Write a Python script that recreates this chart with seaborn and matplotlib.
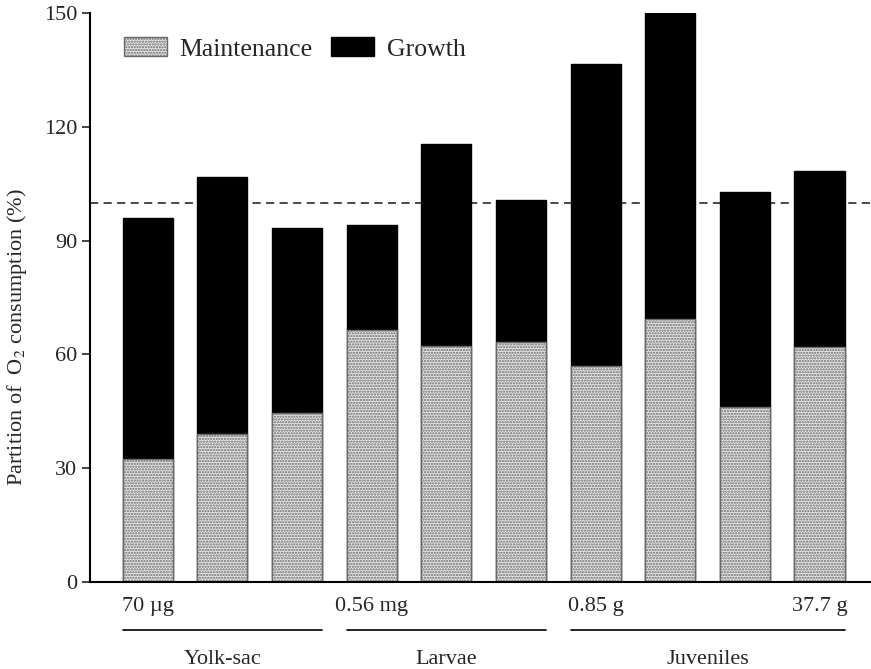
import matplotlib
matplotlib.use("Agg")
import matplotlib.pyplot as plt
import matplotlib.transforms as mtransforms
from matplotlib.patches import Patch
import numpy as np
import pandas as pd
import seaborn as sns

# Oxygen consumption partition for ten size classes (percent of routine rate)
total_pct = [96.0, 106.7, 93.4, 94.2, 115.5, 100.6, 136.6, 150.0, 102.7, 108.4]
maintenance_pct = [32.4, 39.0, 44.6, 66.4, 62.2, 63.3, 57.0, 69.3, 46.1, 62.0]

size_tick_pos = [0, 3, 6, 9]
size_tick_labels = ["70 \u00b5g", "0.56 mg", "0.85 g", "37.7 g"]

stage_names = ["Yolk-sac", "Larvae", "Juveniles"]
stage_first = [0, 3, 6]
stage_last = [2, 5, 9]

df = pd.DataFrame({
    "idx": np.arange(len(total_pct)),
    "total": total_pct,
    "maintenance": maintenance_pct,
})

sns.set_style("ticks")
plt.rcParams["font.family"] = ["Liberation Serif", "DejaVu Serif"]
plt.rcParams["mathtext.fontset"] = "stix"
plt.rcParams["hatch.linewidth"] = 1.1

MAINT_FACE = "#e6e6e6"
MAINT_EDGE = "#6a6a6a"
MAINT_HATCH = "......"

fig = plt.figure(figsize=(8.71, 6.69), dpi=100)
ax = fig.add_axes([90 / 871, 87 / 669, 781 / 871, 569 / 669])

bar_w = 0.67
# Whole bar = maintenance + growth; growth part shown in black
sns.barplot(data=df, x="idx", y="total", color="black", width=bar_w,
            errorbar=None, edgecolor="black", linewidth=1.0, ax=ax,
            saturation=1)
# Maintenance portion, stippled
sns.barplot(data=df, x="idx", y="maintenance", color=MAINT_FACE, width=bar_w,
            errorbar=None, edgecolor=MAINT_EDGE, linewidth=1.0,
            hatch=MAINT_HATCH, ax=ax, saturation=1)

# 100 % reference line
ax.axhline(100, color="#3a3a3a", lw=1.3, ls=(0, (4.5, 3)), zorder=0.5)

ax.set_xlim(-0.773, 9.69)
ax.set_ylim(0, 150)
ax.set_yticks([0, 30, 60, 90, 120, 150])
ax.tick_params(axis="y", direction="out", length=6, width=1.2, pad=3,
               labelsize=16)
ax.set_xticks(size_tick_pos)
ax.set_xticklabels(size_tick_labels)
ax.tick_params(axis="x", length=0, pad=11, labelsize=16)
ax.set_xlabel("")
ax.set_ylabel("Partition of  O$_2$ consumption (%)", fontsize=16)
ax.yaxis.set_label_coords(-0.078, 0.43)

sns.despine(ax=ax)
for side in ("left", "bottom"):
    ax.spines[side].set_linewidth(1.5)
    ax.spines[side].set_color("black")

# Life-stage brackets beneath the size labels
trans = mtransforms.blended_transform_factory(ax.transData, ax.transAxes)
for name, a, b in zip(stage_names, stage_first, stage_last):
    x0, x1 = a - bar_w / 2, b + bar_w / 2
    ax.plot([x0, x1], [-0.0835, -0.0835], color="black", lw=1.2,
            transform=trans, clip_on=False)
    ax.text((x0 + x1) / 2, -0.137, name, transform=trans, ha="center",
            va="center", fontsize=16)

handles = [
    Patch(facecolor=MAINT_FACE, edgecolor=MAINT_EDGE, hatch=MAINT_HATCH,
          label="Maintenance"),
    Patch(facecolor="black", edgecolor="black", label="Growth"),
]
ax.legend(handles=handles, loc="center left", bbox_to_anchor=(0.0435, 0.937),
          ncol=2, frameon=False, fontsize=18.5, handlelength=1.67,
          handleheight=0.78, handletextpad=0.5, columnspacing=0.7,
          borderpad=0, borderaxespad=0)

fig.savefig("out.png", dpi=100)
